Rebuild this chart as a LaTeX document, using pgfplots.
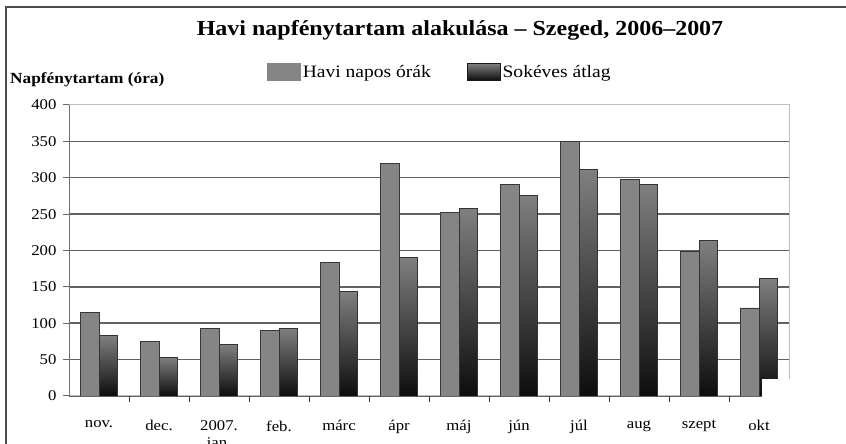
\documentclass[border=0pt]{standalone}
\usepackage{fontspec}
\setmainfont[FakeStretch=1.12]{Liberation Serif}
\usepackage{pgfplots}
\pgfplotsset{compat=1.18}
\pgfplotsset{
  darkbar/.style={ybar, bar width=0.31, bar shift=0.155, draw=black!80, line width=0.8bp,
    top color=black!50, middle color=black!60, bottom color=black!95},
}
\begin{document}
\begin{tikzpicture}[x=1bp,y=1bp]
\useasboundingbox (0,0) rectangle (846,444);
\draw[black!70, line width=1.2bp] (6,0) -- (6,437) -- (846,437);
\node[font=\fontsize{21.5}{24}\selectfont\bfseries] at (460,414) {Havi napfénytartam alakulása – Szeged, 2006–2007};
\node[font=\fontsize{15.5}{17}\selectfont\bfseries, anchor=west, inner sep=0pt] at (10,364) {Napfénytartam (óra)};
\begin{axis}[
  at={(69bp,48bp)}, anchor=south west,
  scale only axis, width=720bp, height=291bp,
  xmin=-0.5, xmax=11.5, ymin=0, ymax=400,
  ytick={0,50,...,350}, extra y ticks={400}, extra y tick style={grid=none},
  ymajorgrids, grid style={black!62, line width=1.5bp},
  xtick={0,...,11},
  xticklabels={nov., dec., {2007.\\jan.}, feb., márc, ápr, máj, jún, júl, aug, szept, okt},
  minor xtick={0.5,1.5,...,10.5},
  tick pos=left,
  tick align=outside, major tick length=6bp, minor tick length=6bp,
  major x tick style={draw=none},
  minor x tick style={black!80, line width=0.8bp},
  y tick style={black!60, line width=1bp},
  axis line style={black!25, line width=1bp},
  xticklabel style={align=center, yshift=-15bp},
  yticklabel style={xshift=-3bp},
  ticklabel style={font=\fontsize{15}{17}\selectfont},
  /pgf/number format/assume math mode=true,
  legend style={at={(0.515,1.113)}, anchor=center, draw=none, fill=none,
    font=\fontsize{17.5}{20}\selectfont, legend columns=2,
    /tikz/every even column/.append style={column sep=34bp}},
  legend cell align=left,
]
\addplot[ybar, bar width=0.31, bar shift=-0.155, fill=black!48, draw=black!78, line width=0.8bp,
  legend image code/.code={\fill[black!48] (0bp,-8bp) rectangle (33bp,9bp);}]
  coordinates {(0,115)(1,75)(2,93)(3,90)(4,184)(5,320)(6,252)(7,291)(8,350)(9,298)(10,199)(11,121)};
\addlegendentry{Havi napos órák}
\addplot[darkbar, legend image code/.code={\fill[black!90] (0bp,-8bp) rectangle (33bp,9bp);}] coordinates {(0,83)};
\addlegendentry{Sokéves átlag}
\addplot[darkbar, forget plot] coordinates {(1,53)};
\addplot[darkbar, forget plot] coordinates {(2,71)};
\addplot[darkbar, forget plot] coordinates {(3,93)};
\addplot[darkbar, forget plot] coordinates {(4,144)};
\addplot[darkbar, forget plot] coordinates {(5,191)};
\addplot[darkbar, forget plot] coordinates {(6,258)};
\addplot[darkbar, forget plot] coordinates {(7,276)};
\addplot[darkbar, forget plot] coordinates {(8,311)};
\addplot[darkbar, forget plot] coordinates {(9,291)};
\addplot[darkbar, forget plot] coordinates {(10,214)};
\addplot[darkbar, forget plot] coordinates {(11,162)};
\draw[black!55, line width=1.6bp] (axis cs:-0.5,0) -- (axis cs:-0.5,400);
\end{axis}
\fill[white] (762,43) rectangle (790,65);
\end{tikzpicture}
\end{document}
